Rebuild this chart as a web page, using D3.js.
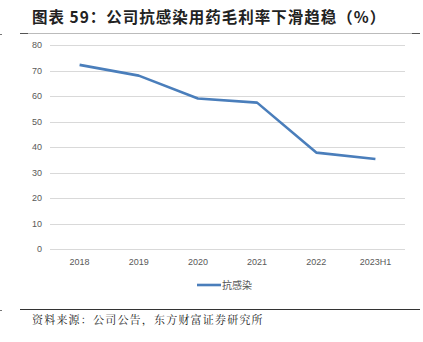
<!DOCTYPE html>
<html><head><meta charset="utf-8">
<script src="https://cdn.jsdelivr.net/npm/d3@7"></script>
<style>body{margin:0;background:#fff;}svg{display:block;}</style>
</head><body>
<script>
const categories = ["2018","2019","2020","2021","2022","2023H1"];
const values = [72.2, 68.0, 59.0, 57.4, 37.8, 35.3];
const yTicks = [0,10,20,30,40,50,60,70,80];
const seriesName = "抗感染";
const title = "图表 59：公司抗感染用药毛利率下滑趋稳（%）";
const source = "资料来源：公司公告，东方财富证券研究所";

const W = 423, H = 342;
const svg = d3.select("body").append("svg").attr("width", W).attr("height", H);
const font = "'Noto Sans CJK SC', 'Noto Sans', sans-serif";

svg.append("text").attr("x", 32).attr("y", 23).attr("font-family", font)
  .attr("font-weight", "bold").attr("font-size", 15.5).attr("letter-spacing", 1).attr("fill", "#222").text(title);

// top rule
svg.append("line").attr("x1", 20).attr("x2", 420).attr("y1", 33.5).attr("y2", 33.5).attr("stroke", "#bbb").attr("stroke-width", 1);
svg.append("line").attr("x1", 20).attr("x2", 28).attr("y1", 33.5).attr("y2", 33.5).attr("stroke", "#555").attr("stroke-width", 1);
svg.append("line").attr("x1", 412).attr("x2", 420).attr("y1", 33.5).attr("y2", 33.5).attr("stroke", "#555").attr("stroke-width", 1);
svg.append("rect").attr("x", 0).attr("y", 34).attr("width", 2).attr("height", 1).attr("fill", "#777");

const x = d3.scaleBand().domain(categories).range([50, 405]);
const y = d3.scaleLinear().domain([0, 80]).range([249, 45]);

const g = svg.append("g");
g.selectAll(".grid").data(yTicks).enter().append("line")
  .attr("x1", 50).attr("x2", 405).attr("y1", d => Math.round(y(d)) + 0.5).attr("y2", d => Math.round(y(d)) + 0.5)
  .attr("stroke", "#d9d9d9").attr("stroke-width", 1);

const yAxis = svg.append("g").attr("transform", "translate(50,0)")
  .call(d3.axisLeft(y).tickValues(yTicks).tickSize(0).tickPadding(8));
yAxis.select(".domain").remove();
yAxis.selectAll("text").attr("font-family", "'Liberation Sans', Arial, sans-serif").attr("font-size", 9).attr("fill", "#595959");

const xAxis = svg.append("g").attr("transform", "translate(0,249)")
  .call(d3.axisBottom(x).tickSize(0).tickPadding(10));
xAxis.select(".domain").remove();
xAxis.selectAll("text").attr("font-family", "'Liberation Sans', Arial, sans-serif").attr("font-size", 9).attr("fill", "#595959");

const line = d3.line().x((d, i) => x(categories[i]) + x.bandwidth() / 2).y(d => y(d));
svg.append("path").datum(values).attr("d", line).attr("fill", "none")
  .attr("stroke", "#4A7EBB").attr("stroke-width", 2.6).attr("stroke-linejoin", "round");

// legend
svg.append("line").attr("x1", 197).attr("x2", 221).attr("y1", 285).attr("y2", 285)
  .attr("stroke", "#4A7EBB").attr("stroke-width", 2.6);
svg.append("text").attr("x", 222).attr("y", 289).attr("font-family", font).attr("font-size", 10)
  .attr("fill", "#595959").text(seriesName);

// bottom rule
svg.append("line").attr("x1", 20).attr("x2", 420).attr("y1", 309.5).attr("y2", 309.5).attr("stroke", "#333").attr("stroke-width", 1);
svg.append("rect").attr("x", 0).attr("y", 310).attr("width", 2).attr("height", 1).attr("fill", "#777");

svg.append("text").attr("x", 32).attr("y", 324).attr("font-family", "'Noto Serif CJK SC', 'Noto Sans CJK SC', serif")
  .attr("font-size", 11).attr("letter-spacing", 1.2).attr("fill", "#222").text(source);
</script>
</body></html>
